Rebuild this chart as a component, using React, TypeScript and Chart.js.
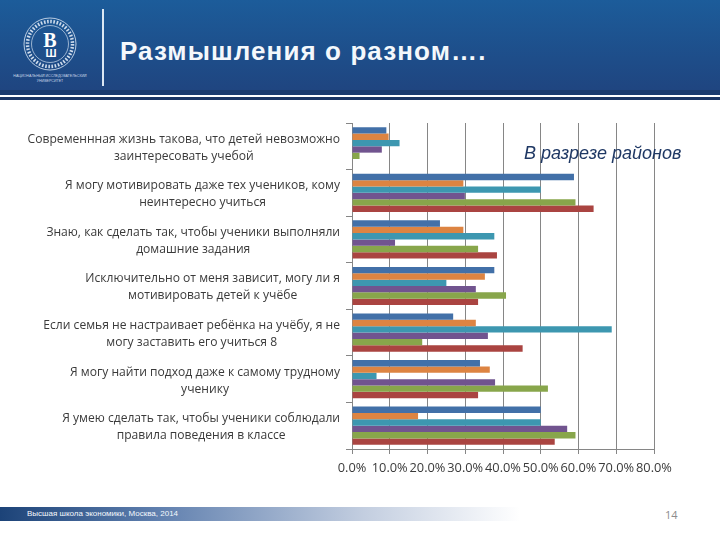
import React, { useEffect, useRef } from 'react';
import { Chart, registerables } from 'chart.js';

Chart.register(...registerables);

// Category labels, one entry per line
const categories: string[][] = [
  ['Современнная жизнь такова, что детей невозможно', 'заинтересовать учебой'],
  ['Я могу мотивировать даже тех учеников, кому', 'неинтересно учиться'],
  ['Знаю, как сделать так, чтобы ученики выполняли', 'домашние задания'],
  ['Исключительно от меня зависит, могу ли я', 'мотивировать детей к учёбе'],
  ['Если семья не настраивает ребёнка на учёбу, я не', 'могу заставить его учиться 8'],
  ['Я могу найти подход даже к самому трудному', 'ученику'],
  ['Я умею сделать так, чтобы ученики соблюдали', 'правила поведения в классе'],
];

// Series, top bar to bottom bar in each group
const blue = [9.1, 58.8, 23.3, 37.7, 26.8, 33.9, 50];
const orange = [9.7, 29.5, 29.5, 35.2, 32.8, 36.5, 17.5];
const teal = [12.6, 50, 37.7, 25, 68.8, 6.5, 50];
const purple = [7.9, 29.9, 11.4, 32.8, 36, 37.9, 57];
const green = [2, 59.2, 33.4, 40.8, 18.6, 51.9, 59.2];
const red = [0, 64, 38.4, 33.4, 45.2, 33.4, 53.7];

const xTicks = [0, 10, 20, 30, 40, 50, 60, 70, 80];

const seriesList = [
  { values: blue, color: '#4270a8' },
  { values: orange, color: '#dd8442' },
  { values: teal, color: '#3d97b0' },
  { values: purple, color: '#71548f' },
  { values: green, color: '#88a64b' },
  { values: red, color: '#aa4441' },
];

const LABEL_FONT = '12.1px "Open Sans", sans-serif';

// Right-aligned two line blocks whose lines are centred on each other
const categoryLabels = {
  id: 'categoryLabels',
  afterDraw(chart: Chart) {
    const { ctx } = chart;
    const y = chart.scales.y;
    ctx.save();
    ctx.font = LABEL_FONT;
    ctx.fillStyle = '#3a3a3a';
    ctx.textAlign = 'center';
    ctx.textBaseline = 'middle';
    categories.forEach((lines, i) => {
      const widest = Math.max(...lines.map((l) => ctx.measureText(l).width));
      const cx = 340 - widest / 2;
      const cy = y.getPixelForTick(i) + 1.5;
      ctx.fillText(lines[0], cx, cy - 8.5);
      ctx.fillText(lines[1], cx, cy + 8.5);
    });
    ctx.restore();
  },
};

const App: React.FC = () => {
  const canvasRef = useRef<HTMLCanvasElement>(null);

  useEffect(() => {
    const ctx = canvasRef.current?.getContext('2d');
    if (!ctx) return;

    const chart = new Chart(ctx, {
      type: 'bar',
      data: {
        labels: categories.map((c) => c.join(' ')),
        datasets: seriesList.map((s) => ({
          data: s.values,
          backgroundColor: s.color,
          barPercentage: 1,
          categoryPercentage: 0.82,
        })),
      },
      options: {
        indexAxis: 'y',
        animation: false,
        responsive: false,
        layout: { padding: { top: 123, right: 66, bottom: 65, left: 0 } },
        plugins: { legend: { display: false }, tooltip: { enabled: false } },
        scales: {
          x: {
            min: 0,
            max: 80,
            afterBuildTicks: (axis) => {
              axis.ticks = xTicks.map((value) => ({ value }));
            },
            grid: { color: '#868686', lineWidth: 1, tickLength: 5 },
            border: { color: '#868686' },
            ticks: {
              color: '#3a3a3a',
              font: { family: '"Open Sans", sans-serif', size: 12.8 },
              maxRotation: 0,
              autoSkip: false,
              padding: 7,
              callback: (value) => `${Number(value).toFixed(1)}%`,
            },
            afterFit: (axis) => {
              axis.height = 26;
            },
          },
          y: {
            grid: { drawOnChartArea: false, color: '#868686', tickLength: 6 },
            border: { color: '#868686' },
            ticks: { display: false },
            afterFit: (axis) => {
              axis.width = 352;
            },
          },
        },
      },
      plugins: [categoryLabels],
    });

    return () => chart.destroy();
  }, []);

  return (
    <div style={{ position: 'absolute', left: 0, top: 0, width: 720, height: 540, overflow: 'hidden', background: '#fff' }}>
      {/* header band */}
      <div style={{ position: 'absolute', left: 0, top: 0, width: 720, height: 90, background: 'linear-gradient(#1c5c9a, #1f4580)' }} />
      <div style={{ position: 'absolute', left: 0, top: 90, width: 720, height: 5, background: '#1b3b6e' }} />
      <div style={{ position: 'absolute', left: 0, top: 95, width: 720, height: 2, background: '#ffffff' }} />
      <div style={{ position: 'absolute', left: 0, top: 97, width: 720, height: 3, background: '#1b3563' }} />
      <div style={{ position: 'absolute', left: 102, top: 9, width: 1.5, height: 77, background: '#dbe7f3' }} />
      <svg style={{ position: 'absolute', left: 20, top: 14 }} width={60} height={60}>
        <circle cx={30} cy={30} r={26} fill="none" stroke="#b9cce2" strokeWidth={1} />
        <circle cx={30} cy={30} r={22.5} fill="none" stroke="#cfdcec" strokeWidth={3.5} strokeDasharray="1.6 1.6" />
        <circle cx={30} cy={30} r={18.5} fill="none" stroke="#b9cce2" strokeWidth={0.8} />
        <text x={30} y={33} textAnchor="middle" fill="#ffffff" style={{ font: 'bold 20px "Liberation Serif", serif' }}>В</text>
        <text x={31} y={43} textAnchor="middle" fill="#ffffff" style={{ font: 'bold 11px "Liberation Sans", sans-serif' }}>Ш</text>
      </svg>
      <div style={{ position: 'absolute', left: 0, top: 74, width: 100, textAlign: 'center', color: '#c8d6e8', font: '3.6px/5px "Liberation Sans", sans-serif' }}>
        НАЦИОНАЛЬНЫЙ ИССЛЕДОВАТЕЛЬСКИЙ<br />УНИВЕРСИТЕТ
      </div>
      <div style={{ position: 'absolute', left: 120, top: 36, color: '#f4f8fc', whiteSpace: 'nowrap', font: 'bold 26px/30px "Liberation Sans", sans-serif', letterSpacing: 1.1 }}>
        Размышления о разном….
      </div>

      {/* footer band */}
      <div style={{ position: 'absolute', left: 0, top: 507, width: 520, height: 14, background: 'linear-gradient(90deg, #1c4378 0%, #5f7fae 30%, #c3cee0 70%, #ffffff 100%)' }} />
      <div style={{ position: 'absolute', left: 27, top: 507, color: '#f4f8fc', whiteSpace: 'nowrap', font: '8px/14px "Liberation Sans", sans-serif' }}>
        Высшая школа экономики, Москва, 2014
      </div>
      <div style={{ position: 'absolute', left: 665, top: 507, color: '#8c8c8c', whiteSpace: 'nowrap', font: '11px/16px "Open Sans", sans-serif' }}>
        14
      </div>

      <canvas ref={canvasRef} width={720} height={540} style={{ position: 'absolute', left: 0, top: 0, background: 'transparent' }} />

      <div style={{ position: 'absolute', left: 524, top: 143, color: '#1f3864', whiteSpace: 'nowrap', font: 'italic 18px/21px "Liberation Sans", sans-serif' }}>
        В разрезе районов
      </div>
    </div>
  );
};

export default App;
